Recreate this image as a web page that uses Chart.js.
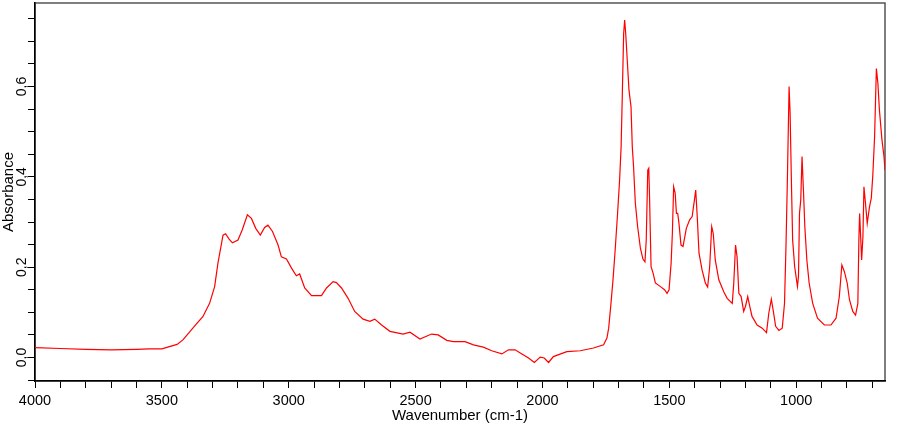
<!DOCTYPE html>
<html>
<head>
<meta charset="utf-8">
<script src="https://cdn.jsdelivr.net/npm/chart.js@4"></script>
<style>
  html, body { margin: 0; padding: 0; background: #fff; }
  #wrap { width: 900px; height: 425px; }
</style>
</head>
<body>
<div id="wrap"><canvas id="irChart" width="900" height="425"></canvas></div>
<script>
// IR spectrum
const wavenumbers = [
  4000, 3900, 3800, 3700, 3600, 3549, 3500, 3470, 3440, 3417, 3378, 3338, 3312, 3292, 3279,
  3259, 3249, 3235, 3222, 3200, 3183, 3163, 3147, 3130, 3112, 3095, 3082, 3064, 3042, 3029,
  3009, 2989, 2970, 2957, 2937, 2910, 2871, 2851, 2825, 2812, 2792, 2766, 2740, 2707, 2680,
  2661, 2634, 2601, 2549, 2522, 2483, 2437, 2411, 2377, 2351, 2305, 2272, 2233, 2200, 2160,
  2134, 2108, 2081, 2055, 2032, 2009, 1993, 1976, 1957, 1904, 1851, 1799, 1759, 1746, 1739,
  1730, 1722, 1713, 1704, 1696, 1690, 1685, 1680, 1676, 1672, 1667, 1659, 1651, 1646, 1641,
  1634, 1625, 1614, 1604, 1596, 1591, 1585, 1581, 1578, 1572, 1564, 1555, 1535, 1519, 1509,
  1501, 1493, 1488, 1483, 1477, 1472, 1467, 1462, 1454, 1446, 1433, 1420, 1410, 1401, 1396,
  1390, 1383, 1371, 1358, 1349, 1341, 1333, 1327, 1319, 1305, 1285, 1272, 1252, 1246, 1239,
  1233, 1226, 1217, 1207, 1200, 1191, 1183, 1174, 1154, 1134, 1117, 1108, 1098, 1090, 1081,
  1068, 1055, 1046, 1040, 1035, 1028, 1024, 1019, 1014, 1006, 995, 991, 987, 982, 977,
  971, 966, 958, 949, 935, 916, 889, 863, 843, 830, 820, 810, 799, 790, 777,
  766, 757, 753, 750, 746, 742, 737, 733, 727, 720, 711, 704, 698, 691, 684,
  678, 672, 662, 654, 650
];
const absorbance = [
  0.022, 0.020, 0.018, 0.017, 0.018, 0.019, 0.019, 0.024, 0.029, 0.039, 0.065, 0.091, 0.120, 0.157, 0.209,
  0.271, 0.274, 0.262, 0.254, 0.260, 0.283, 0.316, 0.308, 0.286, 0.271, 0.288, 0.293, 0.279, 0.249, 0.223,
  0.218, 0.198, 0.181, 0.185, 0.154, 0.137, 0.137, 0.154, 0.168, 0.166, 0.154, 0.131, 0.102, 0.085, 0.080,
  0.085, 0.072, 0.058, 0.052, 0.056, 0.041, 0.052, 0.050, 0.038, 0.035, 0.035, 0.028, 0.023, 0.015, 0.008,
  0.017, 0.017, 0.008, -0.001, -0.011, 0.001, -0.001, -0.011, 0.002, 0.013, 0.015, 0.021, 0.028, 0.043, 0.065,
  0.120, 0.172, 0.242, 0.319, 0.393, 0.467, 0.589, 0.718, 0.747, 0.718, 0.670, 0.592, 0.555, 0.467, 0.423,
  0.342, 0.290, 0.242, 0.218, 0.212, 0.260, 0.415, 0.419, 0.356, 0.201, 0.187, 0.165, 0.157, 0.150, 0.142,
  0.150, 0.209, 0.275, 0.378, 0.364, 0.319, 0.319, 0.297, 0.249, 0.246, 0.286, 0.305, 0.312, 0.349, 0.371,
  0.312, 0.231, 0.194, 0.165, 0.156, 0.201, 0.290, 0.275, 0.216, 0.172, 0.145, 0.131, 0.120, 0.165, 0.249,
  0.223, 0.142, 0.135, 0.102, 0.113, 0.135, 0.113, 0.091, 0.072, 0.065, 0.055, 0.098, 0.129, 0.102, 0.069,
  0.060, 0.065, 0.120, 0.253, 0.386, 0.600, 0.541, 0.393, 0.260, 0.201, 0.157, 0.179, 0.319, 0.349, 0.445,
  0.364, 0.290, 0.216, 0.165, 0.120, 0.087, 0.072, 0.072, 0.087, 0.135, 0.205, 0.190, 0.165, 0.128, 0.102,
  0.094, 0.120, 0.260, 0.319, 0.268, 0.216, 0.268, 0.378, 0.342, 0.297, 0.334, 0.353, 0.404, 0.489, 0.640,
  0.607, 0.548, 0.482, 0.445, 0.415
];
const xLabelValues = [4000, 3500, 3000, 2500, 2000, 1500, 1000];
const yLabelValues = [0.0, 0.2, 0.4, 0.6];

const points = wavenumbers.map((w, i) => ({ x: w, y: absorbance[i] }));

// grey frame round the plot (top / right edges)
const frame = {
  id: 'frame',
  beforeDraw(chart) {
    const a = chart.chartArea, c = chart.ctx;
    c.save();
    c.strokeStyle = '#555';
    c.lineWidth = 1.5;
    c.strokeRect(a.left, a.top, a.right - a.left, a.bottom - a.top);
    c.restore();
  }
};

const ctx = document.getElementById('irChart').getContext('2d');
const irChart = new Chart(ctx, {
  type: 'line',
  data: {
    datasets: [{
      data: points,
      borderColor: '#ff0000',
      borderWidth: 1.2,
      pointRadius: 0,
      tension: 0,
      fill: false
    }]
  },
  options: {
    responsive: false,
    animation: false,
    layout: { padding: { top: 3, right: 15, left: 0, bottom: 0 } },
    plugins: { legend: { display: false }, tooltip: { enabled: false } },
    scales: {
      x: {
        type: 'linear',
        reverse: true,
        min: 650,
        max: 4000,
        afterFit: function (s) { s.height = 44; },
        border: { display: true, color: '#000', width: 1.5 },
        grid: { drawOnChartArea: false, drawTicks: true, tickLength: 7, color: '#000' },
        ticks: {
          stepSize: 100,
          includeBounds: false,
          autoSkip: false,
          maxRotation: 0,
          padding: 4,
          color: '#000',
          font: { family: 'Liberation Sans', size: 14.5 },
          callback: function (v) { return xLabelValues.includes(Math.round(v)) ? String(Math.round(v)) : ''; }
        },
        title: {
          display: true,
          text: 'Wavenumber (cm-1)',
          color: '#000',
          font: { family: 'Liberation Sans', size: 15 },
          padding: { top: 0, bottom: 0 }
        }
      },
      y: {
        type: 'linear',
        min: -0.052,
        max: 0.785,
        afterFit: function (s) { s.width = 35; s.paddingTop = 0; s.paddingBottom = 0; },
        border: { display: true, color: '#000', width: 1.5 },
        grid: { drawOnChartArea: false, drawTicks: true, tickLength: 7, color: '#000' },
        ticks: {
          stepSize: 0.05,
          includeBounds: false,
          autoSkip: false,
          minRotation: 90,
          maxRotation: 90,
          crossAlign: 'center',
          padding: -4,
          color: '#000',
          font: { family: 'Liberation Sans', size: 14 },
          callback: function (v) {
            const hit = yLabelValues.find(t => Math.abs(t - v) < 1e-6);
            return hit === undefined ? '' : hit.toFixed(1).replace('.', ',');
          }
        },
        title: {
          display: true,
          text: 'Absorbance',
          color: '#000',
          font: { family: 'Liberation Sans', size: 15 },
          padding: { top: 0, bottom: 0 }
        }
      }
    }
  },
  plugins: [frame]
});
</script>
</body>
</html>
